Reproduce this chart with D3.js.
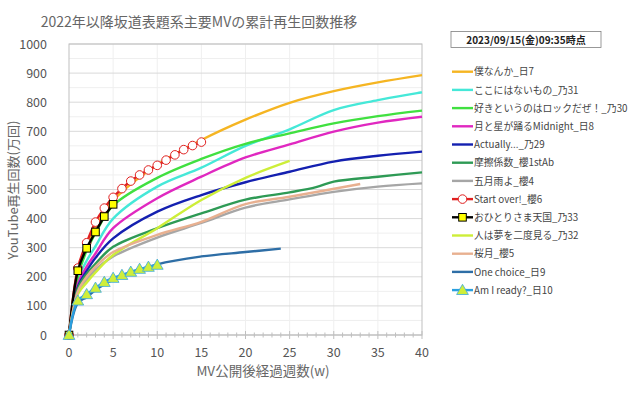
<!DOCTYPE html>
<html>
<head>
<meta charset="utf-8">
<script src="https://cdn.jsdelivr.net/npm/d3@7"></script>
<style>
  body { margin: 0; background: #fff; }
  text { font-family: "Noto Sans CJK JP", "Noto Sans", sans-serif; }
</style>
</head>
<body>
<div id="chart"></div>
<script>
// series names (legend order)
const names = ["僕なんか_日7", "ここにはないもの_乃31", "好きというのはロックだぜ！_乃30",
  "月と星が踊るMidnight_日8", "Actually..._乃29", "摩擦係数_櫻1stAb", "五月雨よ_櫻4",
  "Start over!_櫻6", "おひとりさま天国_乃33", "人は夢を二度見る_乃32", "桜月_櫻5",
  "One choice_日9", "Am I ready?_日10"];

// weeks / values (万回)
const bokuW = [0, 1, 2, 3, 5, 10, 15, 20, 25, 30, 35, 40];
const bokuV = [0, 215, 300, 370, 462, 585, 670, 740, 798, 838, 868, 893];
const kokoW = [0, 1, 2, 3, 5, 10, 15, 20, 25, 30, 35, 40];
const kokoV = [0, 190, 255, 305, 400, 510, 575, 650, 707, 773, 807, 834];
const sukiW = [0, 1, 2, 3, 5, 10, 15, 20, 25, 30, 35, 40];
const sukiV = [0, 200, 290, 350, 445, 540, 605, 657, 693, 727, 752, 771];
const tsukiW = [0, 1, 2, 3, 5, 10, 15, 20, 25, 30, 35, 40];
const tsukiV = [0, 175, 235, 280, 367, 470, 544, 610, 655, 699, 730, 750];
const actW = [0, 1, 2, 3, 5, 10, 15, 20, 25, 30, 35, 40];
const actV = [0, 165, 220, 265, 332, 424, 481, 525, 561, 596, 616, 630];
const masatsuW = [0, 1, 2, 3, 5, 10, 15, 20, 25, 28, 30, 35, 40];
const masatsuV = [0, 160, 210, 245, 303, 367, 418, 465, 490, 508, 527, 544, 559];
const samidareW = [0, 1, 2, 3, 5, 10, 15, 20, 25, 30, 35, 40];
const samidareV = [0, 145, 190, 225, 270, 335, 385, 438, 466, 492, 510, 521];
const startW = [0, 1, 2, 3, 4, 5, 6, 7, 8, 9, 10, 11, 12, 13, 14, 15];
const startV = [0, 230, 317, 388, 436, 473, 503, 529, 550, 567, 583, 601, 619, 637, 651, 663];
const ohitoriW = [0, 1, 2, 3, 4, 5];
const ohitoriV = [0, 221, 298, 354, 407, 449];
const hitoW = [0, 1, 2, 3, 5, 10, 15, 20, 25];
const hitoV = [0, 140, 180, 215, 275, 367, 464, 540, 598];
const sakuraW = [0, 1, 2, 3, 5, 10, 15, 20, 25, 33];
const sakuraV = [0, 150, 200, 235, 285, 344, 389, 450, 475, 519];
const oneW = [0, 1, 2, 3, 5, 10, 15, 20, 24];
const oneV = [0, 110, 130, 155, 190, 243, 270, 285, 297];
const readyW = [0, 1, 2, 3, 4, 5, 6, 7, 8, 9, 10];
const readyV = [0, 118, 140, 162, 182, 196, 206, 217, 227, 234, 241];

const xTicks = [0, 5, 10, 15, 20, 25, 30, 35, 40];
const yTicks = [0, 100, 200, 300, 400, 500, 600, 700, 800, 900, 1000];

const colors = ["#f5b522", "#45e8d8", "#40e040", "#e028c0", "#1420b0", "#2e9a55", "#a6a6a6",
  "#e02020", "#000000", "#cdee38", "#e8b090", "#2e6ea6", "#2aa0e0"];
const markers = [null, null, null, null, null, null, null, "circle", "square", null, null, null, "triangle"];

const allW = [bokuW, kokoW, sukiW, tsukiW, actW, masatsuW, samidareW, startW, ohitoriW, hitoW, sakuraW, oneW, readyW];
const allV = [bokuV, kokoV, sukiV, tsukiV, actV, masatsuV, samidareV, startV, ohitoriV, hitoV, sakuraV, oneV, readyV];
const series = names.map((n, i) => ({
  name: n, color: colors[i], marker: markers[i],
  pts: allW[i].map((w, j) => ({ w: w, v: allV[i][j] }))
}));

const W = 640, H = 398;
const m = { left: 69, right: 218, top: 44, bottom: 63 };

const svg = d3.select("#chart").append("svg")
  .attr("width", W).attr("height", H);

const x = d3.scaleLinear().domain([0, 40]).range([m.left, W - m.right]);
const y = d3.scaleLinear().domain([0, 1000]).range([H - m.bottom, m.top]);

// grid
svg.append("g").selectAll("line").data(d3.range(50, 1000, 100)).join("line")
  .attr("x1", x(0)).attr("x2", x(40)).attr("y1", d => y(d)).attr("y2", d => y(d))
  .attr("stroke", "#efefef");
svg.append("g").selectAll("line").data(xTicks.slice(1, -1)).join("line")
  .attr("x1", d => x(d)).attr("x2", d => x(d)).attr("y1", y(0)).attr("y2", y(1000))
  .attr("stroke", "#efefef");
svg.append("g").selectAll("line").data(yTicks.slice(1)).join("line")
  .attr("x1", x(0)).attr("x2", x(40)).attr("y1", d => y(d)).attr("y2", d => y(d))
  .attr("stroke", "#d9d9d9");

// frame
svg.append("rect")
  .attr("x", x(0)).attr("y", y(1000))
  .attr("width", x(40) - x(0)).attr("height", y(0) - y(1000))
  .attr("fill", "none").attr("stroke", "#bfbfbf");

// x axis with minor ticks
const xAxis = svg.append("g").attr("transform", `translate(0,${y(0)})`);
xAxis.append("line").attr("x1", x(0)).attr("x2", x(40)).attr("stroke", "#bfbfbf");
xAxis.selectAll("line.minor").data(d3.range(0, 41)).join("line").attr("class", "minor")
  .attr("x1", d => x(d)).attr("x2", d => x(d))
  .attr("y1", d => d % 5 === 0 ? -4 : -2.5).attr("y2", d => d % 5 === 0 ? 4 : 2.5)
  .attr("stroke", "#bfbfbf");
xAxis.selectAll("text").data(xTicks).join("text")
  .attr("x", d => x(d)).attr("y", 22)
  .attr("text-anchor", "middle").attr("font-size", 12.5).attr("fill", "#555")
  .text(d => d);

// y axis labels
svg.append("g").selectAll("text").data(yTicks).join("text")
  .attr("x", 47).attr("y", d => y(d) + 4.5)
  .attr("text-anchor", "end").attr("font-size", 12.5).attr("fill", "#555")
  .text(d => d);

// titles
svg.append("text").attr("x", 199).attr("y", 27)
  .attr("text-anchor", "middle").attr("font-size", 14).attr("fill", "#666")
  .text("2022年以降坂道表題系主要MVの累計再生回数推移");
svg.append("text").attr("x", 263).attr("y", 376)
  .attr("text-anchor", "middle").attr("font-size", 13.5).attr("fill", "#666")
  .text("MV公開後経過週数(w)");
svg.append("text").attr("transform", "translate(18,190) rotate(-90)")
  .attr("text-anchor", "middle").attr("font-size", 13).attr("fill", "#666")
  .text("YouTube再生回数(万回)");

// lines
const line = d3.line().x(d => x(d.w)).y(d => y(d.v)).curve(d3.curveCatmullRom.alpha(0.5));
const tri = d3.symbol().type(d3.symbolTriangle).size(60);

function drawMarker(g, type, cx, cy, color) {
  if (type === "circle") {
    g.append("circle").attr("cx", cx).attr("cy", cy).attr("r", 4.3)
      .attr("fill", "#fff").attr("stroke", color).attr("stroke-width", 1);
  } else if (type === "square") {
    g.append("rect").attr("x", cx - 3.8).attr("y", cy - 3.8).attr("width", 7.6).attr("height", 7.6)
      .attr("fill", "#ffff00").attr("stroke", "#000").attr("stroke-width", 1);
  } else if (type === "triangle") {
    g.append("path").attr("d", tri).attr("transform", `translate(${cx},${cy + 1})`)
      .attr("fill", "#cfee3a").attr("stroke", "#3aa8e0").attr("stroke-width", 0.8);
  }
}

const plot = svg.append("g");
series.forEach(s => {
  plot.append("path").datum(s.pts)
    .attr("fill", "none").attr("stroke", s.color).attr("stroke-width", 2.4)
    .attr("d", line);
  if (s.marker) {
    const mg = plot.append("g");
    s.pts.forEach(p => drawMarker(mg, s.marker, x(p.w), y(p.v), s.color));
  }
});

// legend
const lg = svg.append("g");
lg.append("rect").attr("x", 451).attr("y", 31.5).attr("width", 150).attr("height", 16)
  .attr("fill", "#fff").attr("stroke", "#7f7f7f").attr("stroke-width", 0.8);
lg.append("text").attr("x", 526).attr("y", 43.5).attr("text-anchor", "middle")
  .attr("font-size", 10).attr("font-weight", "bold").attr("fill", "#222")
  .text("2023/09/15(金)09:35時点");

series.forEach((s, i) => {
  const yy = 71.7 + i * 18.2;
  lg.append("line").attr("x1", 452).attr("x2", 473).attr("y1", yy).attr("y2", yy)
    .attr("stroke", s.color).attr("stroke-width", 2.4);
  if (s.marker) drawMarker(lg, s.marker, 462.5, yy, s.color);
  lg.append("text").attr("x", 474).attr("y", yy + 3.6)
    .attr("font-size", 9.8).attr("fill", "#444").text(s.name);
});
</script>
</body>
</html>
